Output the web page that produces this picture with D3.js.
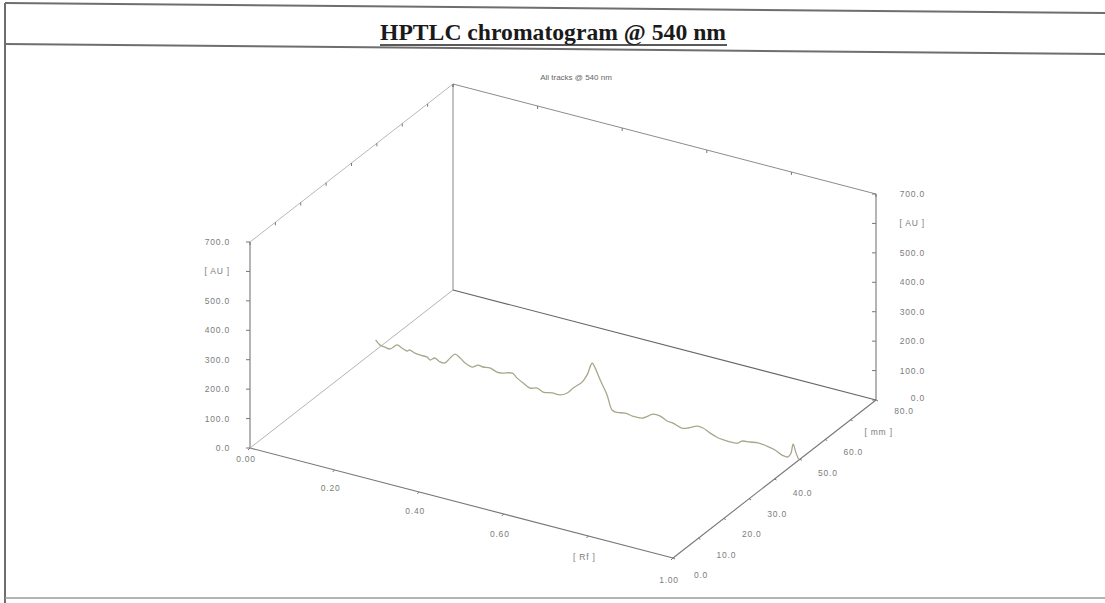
<!DOCTYPE html>
<html><head><meta charset="utf-8">
<script src="https://cdn.jsdelivr.net/npm/d3@7"></script>
<style>html,body{margin:0;padding:0;background:#fff;}svg{display:block;}</style>
</head><body>
<svg id="c" width="1105" height="603"></svg>
<script>
// ---- data ----
const pageTitle = "HPTLC chromatogram @ 540 nm";
const chartTitle = "All tracks @ 540 nm";
const auTicks = [0, 100, 200, 300, 400, 500, 600, 700];
const auUnitTick = 600;
const rfTicks = [0, 0.2, 0.4, 0.6, 0.8, 1.0];
const rfUnitTick = 0.8;
const mmTicks = [0, 10, 20, 30, 40, 50, 60, 70, 80];
const mmUnitTick = 70;
const trackMm = 49.5;
const traceRf = [0, .010, .022, .034, .051, .062, .074, .081, .093, .105, .122, .129, .140, .152, .164, .176, .188, .200, .211, .228, .242, .254, .270, .287, .299, .323, .334, .349, .365, .382, .396, .417, .436, .453, .467, .488, .500, .512, .519, .531, .547, .559, .571, .590, .609, .630, .644, .656, .672, .689, .703, .724, .739, .760, .774, .791, .807, .821, .843, .857, .866, .885, .904, .925, .944, .963, .975, .982, .987, .994, 1.0];
const traceAu = [35, 22, 19, 17, 37, 31, 25, 31, 25, 23, 22, 15, 26, 17, 18, 39, 57, 48, 36, 28, 40, 38, 41, 33, 34, 43, 31, 19, 8, 14, 6, 11, 11, 24, 46, 74, 103, 148, 134, 97, 53, 6, 2, 7, 3, 5, 17, 28, 28, 17, 15, 6, 12, 26, 25, 14, 6, 3, 2, 5, 15, 19, 23, 20, 14, 2, 2, 17, 50, 22, 3];

// ---- projection via scales ----
const svg = d3.select("#c");
const ox = 250, oy = 448;
const rfX = d3.scaleLinear().domain([0, 1]).range([0, 423]);
const rfY = d3.scaleLinear().domain([0, 1]).range([0, 110]);
const mmX = d3.scaleLinear().domain([0, 80]).range([0, 203]);
const mmY = d3.scaleLinear().domain([0, 80]).range([0, -158]);
const auY = d3.scaleLinear().domain([0, 700]).range([0, -206]);
function P(rf, mm, au) { return [ox + rfX(rf) + mmX(mm), oy + rfY(rf) + mmY(mm) + auY(au)]; }

const axisCol = "#8a8a8a", textCol = "#7c7c7c", ruleCol = "#6e6e6e";
const font = "'Liberation Sans', Arial, sans-serif";

// ---- page rules ----
const g0 = svg.append("g");
g0.append("line").attr("x1", 5).attr("y1", 3).attr("x2", 1105).attr("y2", 13).attr("stroke", ruleCol).attr("stroke-width", 2);
g0.append("line").attr("x1", 5).attr("y1", 44).attr("x2", 1105).attr("y2", 54).attr("stroke", ruleCol).attr("stroke-width", 2);
g0.append("line").attr("x1", 5).attr("y1", 3).attr("x2", 5).attr("y2", 603).attr("stroke", ruleCol).attr("stroke-width", 2);
g0.append("line").attr("x1", 5).attr("y1", 598).attr("x2", 1105).attr("y2", 598).attr("stroke", "#9a9a9a").attr("stroke-width", 1.5);

const t = g0.append("text").attr("x", 553).attr("y", 40).attr("text-anchor", "middle")
  .attr("font-family", "'Liberation Serif', 'Times New Roman', serif").attr("font-weight", "bold")
  .attr("font-size", 23).attr("fill", "#1a1a1a").attr("textLength", 346).attr("lengthAdjust", "spacingAndGlyphs")
  .text(pageTitle);
g0.append("line").attr("x1", 380).attr("y1", 45).attr("x2", 727).attr("y2", 45).attr("stroke", "#222").attr("stroke-width", 1.6);

svg.append("text").attr("x", 576).attr("y", 80).attr("text-anchor", "middle")
  .attr("font-family", font).attr("font-size", 8).attr("fill", "#666").text(chartTitle);

// ---- 3D box ----
const gb = svg.append("g").attr("fill", "none");
function edge(a, b, col, w) {
  gb.append("path").attr("d", d3.line()([a, b])).attr("stroke", col).attr("stroke-width", w);
}
// verticals
edge(P(0, 0, 0), P(0, 0, 700), "#777", 1.1);
edge(P(1, 80, 0), P(1, 80, 700), "#777", 1.1);
edge(P(0, 80, 0), P(0, 80, 700), "#888", 1);
// floor edges
edge(P(0, 0, 0), P(1, 0, 0), "#777", 1.1);
edge(P(1, 0, 0), P(1, 80, 0), "#777", 1.1);
edge(P(0, 0, 0), P(0, 80, 0), "#aaa", 0.9);
edge(P(0, 80, 0), P(1, 80, 0), "#666", 1.1);
// top edges
edge(P(0, 0, 700), P(0, 80, 700), "#b0b0b0", 0.9);
edge(P(0, 80, 700), P(1, 80, 700), "#8c8c8c", 1);

const tick = (p, dx, dy) => gb.append("path").attr("d", d3.line()([p, [p[0] + dx, p[1] + dy]])).attr("stroke", "#777").attr("stroke-width", 1);

// AU axes (left and right)
const fmtAu = d3.format(".1f");
auTicks.forEach(v => {
  const lab = v === auUnitTick ? "[ AU ]" : fmtAu(v);
  const pl = P(0, 0, v);
  tick(pl, -4, 0);
  svg.append("text").attr("x", pl[0] - 20).attr("y", pl[1] + 3).attr("text-anchor", "end")
    .attr("font-family", font).attr("font-size", 8.5).attr("letter-spacing", 0.8).attr("fill", textCol).text(lab);
  const pr = P(1, 80, v);
  tick(pr, -4, 0);
  svg.append("text").attr("x", pr[0] + 49).attr("y", pr[1] + 3 - (v === 0 ? 2 : 0)).attr("text-anchor", "end")
    .attr("font-family", font).attr("font-size", 8.5).attr("letter-spacing", 0.8).attr("fill", textCol).text(lab);
});

// Rf axis
const fmtRf = d3.format(".2f");
rfTicks.forEach(v => {
  const p = P(v, 0, 0);
  tick(p, -2, 2);
  const q = P(v, 80, 700);
  tick(q, 0, 3);
  const lab = v === rfUnitTick ? "[ Rf ]" : fmtRf(v);
  const dy = v === 0 ? 14 : 20 + 5 * v;
  const dx = v === 0 ? -4 : -4;
  svg.append("text").attr("x", p[0] + dx).attr("y", p[1] + dy).attr("text-anchor", "middle")
    .attr("font-family", font).attr("font-size", 8.5).attr("letter-spacing", 0.8).attr("fill", textCol).text(lab);
});

// mm axis
const fmtMm = d3.format(".1f");
mmTicks.forEach(v => {
  const p = P(1, v, 0);
  tick(p, 2, 1);
  const q = P(0, v, 700);
  tick(q, 0, 3);
  const lab = v === mmUnitTick ? "[ mm ]" : fmtMm(v);
  svg.append("text").attr("x", p[0] + 28).attr("y", p[1] + 20 - 6 * v / 80).attr("text-anchor", "middle")
    .attr("font-family", font).attr("font-size", 8.5).attr("letter-spacing", 0.8).attr("fill", textCol).text(lab);
});

// ---- trace ----
const pts = traceRf.map((r, i) => P(r, trackMm, traceAu[i]));
svg.append("path").attr("d", d3.line().curve(d3.curveCatmullRom.alpha(0.5))(pts))
  .attr("fill", "none").attr("stroke", "#a9a68c").attr("stroke-width", 1.3);
</script>
</body></html>
